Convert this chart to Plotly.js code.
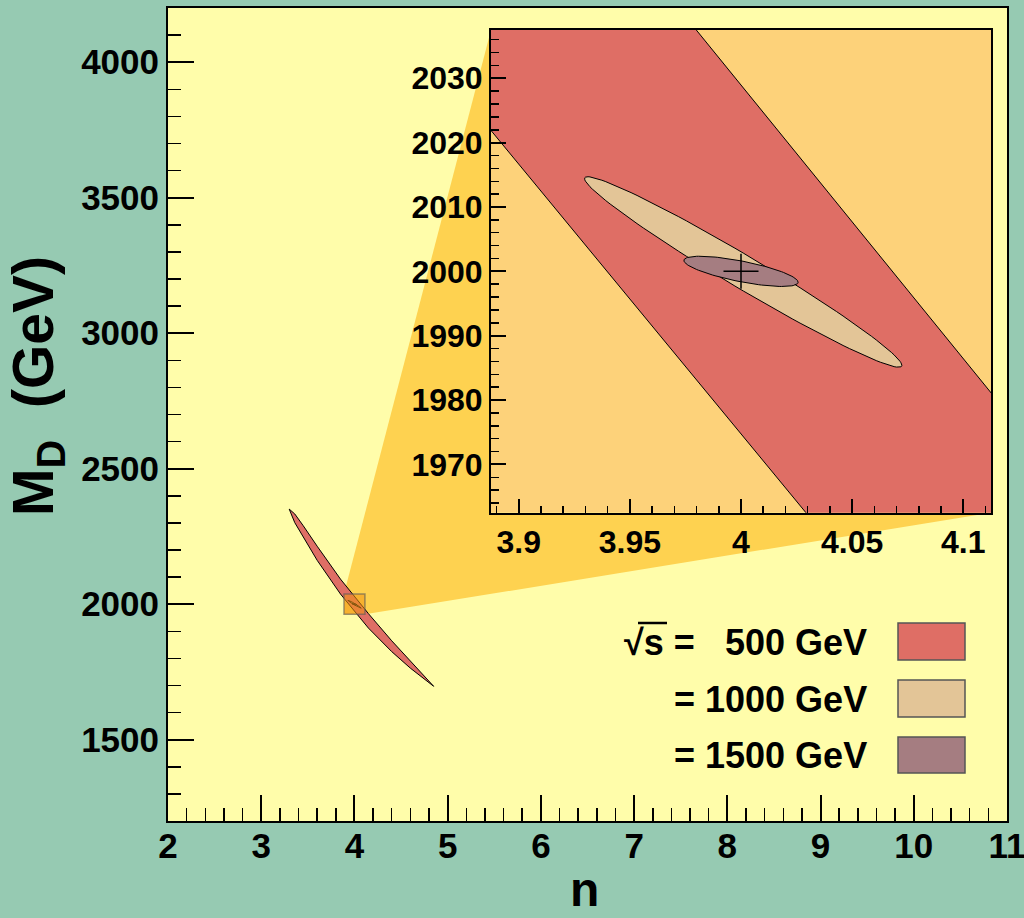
<!DOCTYPE html>
<html>
<head>
<meta charset="utf-8">
<script src="https://cdn.plot.ly/plotly-3.0.1.min.js"></script>
<style>html,body{margin:0;padding:0;background:#96CAB2;}#chart{width:1024px;height:918px;}</style>
</head>
<body>
<div id="chart"></div>
<script>
// ---- data ----
// 500 GeV allowed band (edges of the crescent), n and M_D (GeV)
var band500_n     = [3.30, 3.36, 3.45, 3.60, 3.85,   4.15,   4.40, 4.60, 4.85];
var band500_upper = [2351, 2333, 2290, 2214, 2092.7, 1965.2, 1865, 1790, 1697];
var band500_lower = [2351, 2301, 2246, 2162, 2037.6, 1911.9, 1825, 1764, 1697];

// error ellipses for sqrt(s) = 1000 GeV and 1500 GeV
var ell_names = ["= 1000 GeV", "= 1500 GeV"];
var ell_n0    = [4.001, 4.000];
var ell_md0   = [1999.9, 2000.0];
var ell_sn    = [0.0714, 0.0257];
var ell_smd   = [14.8, 2.35];
var ell_rho   = [-0.98, -0.72];

// true point
var true_n  = [4];
var true_md = [2000];

// axis ranges
var main_n_range  = [2, 11];
var main_md_range = [1200, 4200];
var zoom_n_range  = [3.8875, 4.1125];
var zoom_md_range = [1962.5, 2037.5];

var legend_labels = ["500 GeV", "= 1000 GeV", "= 1500 GeV"];
var colors = ["#DF6E65", "#E3C597", "#A57D81"];

// ---- build traces ----
var FONT = '"Liberation Sans", Arial, Helvetica, sans-serif';

function bandPolygon() {
  var xs = band500_n.slice();
  var ys = band500_upper.slice();
  for (var i = band500_n.length - 1; i >= 0; i--) { xs.push(band500_n[i]); ys.push(band500_lower[i]); }
  return {x: xs, y: ys};
}
function ellipse(k) {
  var xs = [], ys = [], N = 120;
  var s = Math.sqrt(1 - ell_rho[k] * ell_rho[k]);
  for (var i = 0; i <= N; i++) {
    var t = 2 * Math.PI * i / N;
    xs.push(ell_n0[k] + ell_sn[k] * Math.cos(t));
    ys.push(ell_md0[k] + ell_smd[k] * (ell_rho[k] * Math.cos(t) + s * Math.sin(t)));
  }
  return {x: xs, y: ys};
}

var traces = [];
var axesPairs = [["x", "y"], ["x2", "y2"]];
axesPairs.forEach(function (ax) {
  var b = bandPolygon();
  traces.push({x: b.x, y: b.y, xaxis: ax[0], yaxis: ax[1], type: "scatter", mode: "lines",
    fill: "toself", fillcolor: colors[0], line: {color: "black", width: 1}, hoverinfo: "skip", showlegend: false});
  for (var k = 0; k < 2; k++) {
    var e = ellipse(k);
    traces.push({x: e.x, y: e.y, xaxis: ax[0], yaxis: ax[1], type: "scatter", mode: "lines",
      fill: "toself", fillcolor: colors[k + 1], line: {color: "black", width: 1}, hoverinfo: "skip", showlegend: false});
  }
});
traces.push({x: true_n, y: true_md, xaxis: "x2", yaxis: "y2", type: "scatter", mode: "markers",
  marker: {symbol: "cross-thin", size: 25, line: {color: "black", width: 1.5}}, hoverinfo: "skip", showlegend: false});

// ---- layout ----
var W = 1024, H = 918, ML = 168, MR = 17, MT = 8, MB = 97;
var PW = W - ML - MR, PH = H - MT - MB;
function px2paperX(p) { return (p - ML) / PW; }
function px2paperY(p) { return (H - MB - p) / PH; }

var inset_dx = [px2paperX(491), px2paperX(991)];
var inset_dy = [px2paperY(512.7), px2paperY(30)];

function n2paper(n) { return (n - main_n_range[0]) / (main_n_range[1] - main_n_range[0]); }
function md2paper(m) { return (m - main_md_range[0]) / (main_md_range[1] - main_md_range[0]); }

// wedge: hull of the zoom square and the inset frame
var sq = {x0: n2paper(zoom_n_range[0]), x1: n2paper(zoom_n_range[1]), y0: md2paper(zoom_md_range[0]), y1: md2paper(zoom_md_range[1])};
var wedge = "M" + sq.x0 + "," + sq.y1 + " L" + inset_dx[0] + "," + inset_dy[1] + " L" + inset_dx[1] + "," + inset_dy[1] +
  " L" + inset_dx[1] + "," + inset_dy[0] + " L" + sq.x1 + "," + sq.y0 + " L" + sq.x0 + "," + sq.y0 + " Z";

var shapes = [
  {type: "path", xref: "paper", yref: "paper", path: wedge, fillcolor: "#FED250", line: {width: 0}, layer: "below"},
  {type: "rect", xref: "x2", yref: "y2", x0: zoom_n_range[0], x1: zoom_n_range[1], y0: zoom_md_range[0], y1: zoom_md_range[1],
    fillcolor: "#FDD27A", line: {width: 0}, layer: "below"},
  {type: "rect", xref: "x", yref: "y", x0: zoom_n_range[0], x1: zoom_n_range[1], y0: zoom_md_range[0], y1: zoom_md_range[1],
    fillcolor: "rgba(240,150,20,0.55)", line: {color: "rgba(90,90,90,0.6)", width: 1.5}, layer: "above"}
];

// legend boxes
var boxPx = [[623, 660], [680, 717], [737, 773]];
for (var i = 0; i < 3; i++) {
  shapes.push({type: "rect", xref: "paper", yref: "paper", x0: px2paperX(898), x1: px2paperX(965),
    y0: px2paperY(boxPx[i][1]), y1: px2paperY(boxPx[i][0]), fillcolor: colors[i], line: {color: "#555555", width: 1.5}});
}
// overbar of the square root
shapes.push({type: "line", xref: "paper", yref: "paper", x0: px2paperX(638), x1: px2paperX(667),
  y0: px2paperY(623), y1: px2paperY(623), line: {color: "black", width: 2.5}});

var legendRowY = [642, 699, 755];
var LEG = 36;
var annotations = [];
for (var i = 0; i < 3; i++) {
  annotations.push({xref: "paper", yref: "paper", x: px2paperX(869), y: px2paperY(legendRowY[i]), xanchor: "right", yanchor: "middle",
    text: legend_labels[i], showarrow: false, font: {family: FONT, size: LEG, color: "black", weight: "bold"}});
}
annotations.push({xref: "paper", yref: "paper", x: px2paperX(697), y: px2paperY(legendRowY[0]), xanchor: "right", yanchor: "middle",
  text: "\u221As =", showarrow: false, font: {family: FONT, size: LEG, color: "black", weight: "bold"}});
// axis titles
annotations.push({xref: "paper", yref: "paper", x: px2paperX(584), y: px2paperY(889), xanchor: "center", yanchor: "middle",
  text: "n", showarrow: false, font: {family: FONT, size: 48, color: "black", weight: "bold"}});
annotations.push({xref: "paper", yref: "paper", x: px2paperX(37), y: px2paperY(386), xanchor: "center", yanchor: "middle",
  textangle: -90, text: "M<sub>D</sub>\u00A0\u00A0(GeV)", showarrow: false, font: {family: FONT, size: 57, color: "black", weight: "bold"}});

function axisCommon(extra) {
  var a = {showgrid: false, zeroline: false, showline: true, mirror: true, linecolor: "black", linewidth: 2,
    ticks: "inside", tickcolor: "black", tickwidth: 2, tickmode: "linear", ticklabeloverflow: "allow",
    tickfont: {family: FONT, size: 35, color: "black", weight: "bold"}};
  for (var k in extra) a[k] = extra[k];
  return a;
}

var layout = {
  width: W, height: H,
  margin: {l: ML, r: MR, t: MT, b: MB, pad: 0},
  paper_bgcolor: "#96CAB2", plot_bgcolor: "#FFFDAA",
  showlegend: false,
  xaxis: axisCommon({domain: [0, 1], anchor: "y", range: main_n_range, tick0: 2, dtick: 1, ticklen: 26, ticklabelstandoff: -7,
    minor: {ticks: "inside", dtick: 0.2, ticklen: 13, tickwidth: 1.5, tickcolor: "black"}}),
  yaxis: axisCommon({domain: [0, 1], anchor: "x", range: main_md_range, tick0: 0, dtick: 500, ticklen: 26,
    minor: {ticks: "inside", dtick: 100, ticklen: 13, tickwidth: 1.5, tickcolor: "black"}}),
  xaxis2: axisCommon({domain: inset_dx, anchor: "y2", range: zoom_n_range, tick0: 3.9, dtick: 0.05, ticklen: 14,
    tickfont: {family: FONT, size: 32, color: "black", weight: "bold"},
    minor: {ticks: "inside", dtick: 0.01, ticklen: 7, tickwidth: 1.5, tickcolor: "black"}}),
  yaxis2: axisCommon({domain: inset_dy, anchor: "x2", range: zoom_md_range, tick0: 1960, dtick: 10, ticklen: 15,
    tickfont: {family: FONT, size: 32, color: "black", weight: "bold"},
    minor: {ticks: "inside", dtick: 2, ticklen: 8, tickwidth: 1.5, tickcolor: "black"}}),
  shapes: shapes,
  annotations: annotations
};

Plotly.newPlot("chart", traces, layout, {staticPlot: true});
</script>
</body>
</html>
